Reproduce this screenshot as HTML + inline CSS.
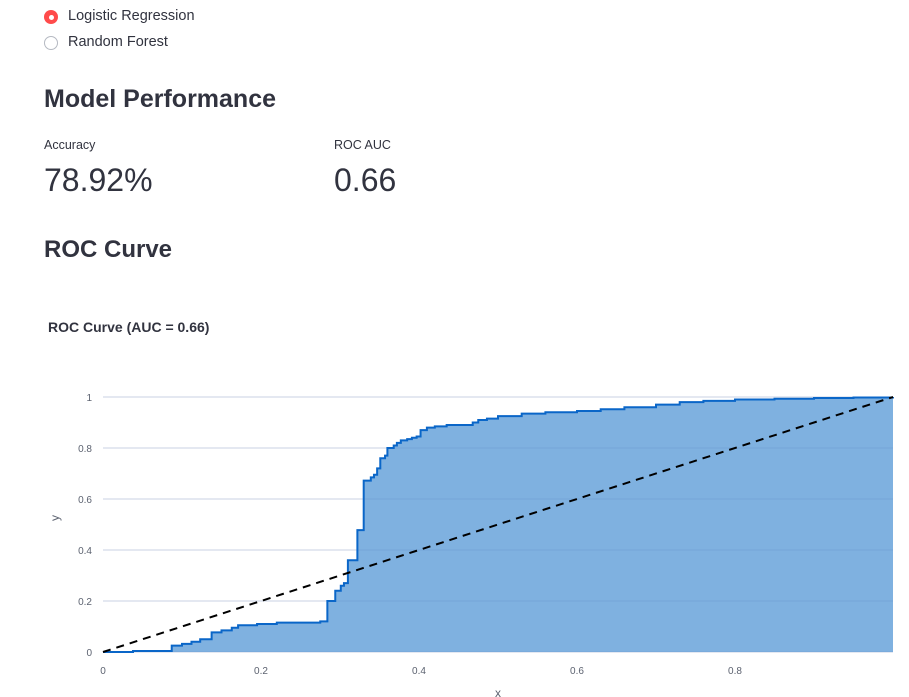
<!DOCTYPE html>
<html><head><meta charset="utf-8"><style>
body{margin:0;width:909px;height:697px;background:#fff;font-family:"Liberation Sans",sans-serif;color:#31333f;position:relative;overflow:hidden}
.abs{position:absolute}
.radio{position:absolute;width:14px;height:14px;border-radius:50%;box-sizing:border-box}
</style></head><body>
<div class="radio" style="left:44px;top:10px;background:#ff4b4b"><div style="position:absolute;left:4.5px;top:4.5px;width:5px;height:5px;border-radius:50%;background:#fff"></div></div>
<div class="abs" style="left:68px;top:8px;font-size:14.5px">Logistic Regression</div>
<div class="radio" style="left:44px;top:36px;border:1px solid #b5b9c2"></div>
<div class="abs" style="left:68px;top:34px;font-size:14.5px">Random Forest</div>
<div class="abs" style="left:44px;top:85px;font-size:25px;font-weight:bold">Model Performance</div>
<div class="abs" style="left:44px;top:138px;font-size:12.5px">Accuracy</div>
<div class="abs" style="left:44px;top:162px;font-size:32px">78.92%</div>
<div class="abs" style="left:334px;top:138px;font-size:12.5px">ROC AUC</div>
<div class="abs" style="left:334px;top:162px;font-size:32px">0.66</div>
<div class="abs" style="left:44px;top:236px;font-size:24px;font-weight:bold">ROC Curve</div>
<svg class="abs" style="left:0;top:0" width="909" height="697">
<text x="48" y="332" font-size="14" font-weight="bold" fill="#31333f">ROC Curve (AUC = 0.66)</text>
<g id="grid"></g><path id="area" fill="#7fb1e0"/>
<g id="grid2"></g>
<path id="line" fill="none" stroke="#0a66c8" stroke-width="2"/>
<line id="diag" stroke="#000" stroke-width="2" stroke-dasharray="8,6"/>
<g id="ticks"></g>
<text x="498" y="697" font-size="12" fill="#5c6270" text-anchor="middle">x</text>
<text transform="translate(59,518) rotate(-90)" font-size="12" fill="#5c6270" text-anchor="middle">y</text>
</svg>
<script>
const fpr=[0,0.038,0.087,0.10,0.112,0.123,0.1375,0.150,0.163,0.171,0.195,0.220,0.275,0.284,0.294,0.301,0.305,0.310,0.322,0.330,0.339,0.343,0.347,0.351,0.357,0.360,0.368,0.372,0.377,0.385,0.391,0.397,0.402,0.41,0.42,0.435,0.468,0.475,0.486,0.50,0.53,0.56,0.60,0.63,0.66,0.70,0.73,0.76,0.80,0.85,0.90,0.95,1.0];
const tpr=[0,0.004,0.025,0.032,0.04,0.05,0.077,0.085,0.095,0.105,0.11,0.115,0.12,0.20,0.24,0.26,0.27,0.36,0.478,0.672,0.685,0.695,0.72,0.76,0.77,0.80,0.81,0.82,0.83,0.835,0.84,0.845,0.87,0.88,0.885,0.89,0.90,0.91,0.915,0.925,0.935,0.94,0.945,0.952,0.96,0.97,0.98,0.985,0.99,0.993,0.996,0.998,1.0];
const xTicks=[0,0.2,0.4,0.6,0.8];
const yTicks=[0,0.2,0.4,0.6,0.8,1];
const xTickLabels=["0","0.2","0.4","0.6","0.8"];
const yTickLabels=["0","0.2","0.4","0.6","0.8","1"];
const X=v=>103+v*790, Y=v=>652-v*255;
const NS="http://www.w3.org/2000/svg";
let d="M"+X(fpr[0])+","+Y(tpr[0]);
for(let i=1;i<fpr.length;i++){d+=" H"+X(fpr[i])+" V"+Y(tpr[i]);}
document.getElementById('line').setAttribute('d',d);
document.getElementById('area').setAttribute('d',d+" V"+Y(0)+" H"+X(0)+" Z");
const diag=document.getElementById('diag');
diag.setAttribute('x1',X(0));diag.setAttribute('y1',Y(0));diag.setAttribute('x2',X(1));diag.setAttribute('y2',Y(1));
const g=document.getElementById('grid'),g2=document.getElementById('grid2'),t=document.getElementById('ticks');
yTicks.forEach((v,i)=>{
 [g,g2].forEach((gg,k)=>{const l=document.createElementNS(NS,'line');
 
 
 l.setAttribute('x1',X(0));l.setAttribute('x2',X(1));l.setAttribute('y1',Y(v));l.setAttribute('y2',Y(v));
 l.setAttribute('stroke',k?'rgba(80,120,180,0.2)':'#e6e9ef');l.setAttribute('stroke-width',1);gg.appendChild(l);});
 const tx=document.createElementNS(NS,'text');
 
 
 tx.setAttribute('x',92);tx.setAttribute('y',Y(v)+4);tx.setAttribute('text-anchor','end');tx.setAttribute('font-size','10');tx.setAttribute('fill','#5c6270');
 tx.textContent=yTickLabels[i];t.appendChild(tx);
});
xTicks.forEach((v,i)=>{
 const tx=document.createElementNS(NS,'text');
 
 
 tx.setAttribute('x',X(v));tx.setAttribute('y',674);tx.setAttribute('text-anchor','middle');tx.setAttribute('font-size','10');tx.setAttribute('fill','#5c6270');
 tx.textContent=xTickLabels[i];t.appendChild(tx);
});
</script>
</body></html>
